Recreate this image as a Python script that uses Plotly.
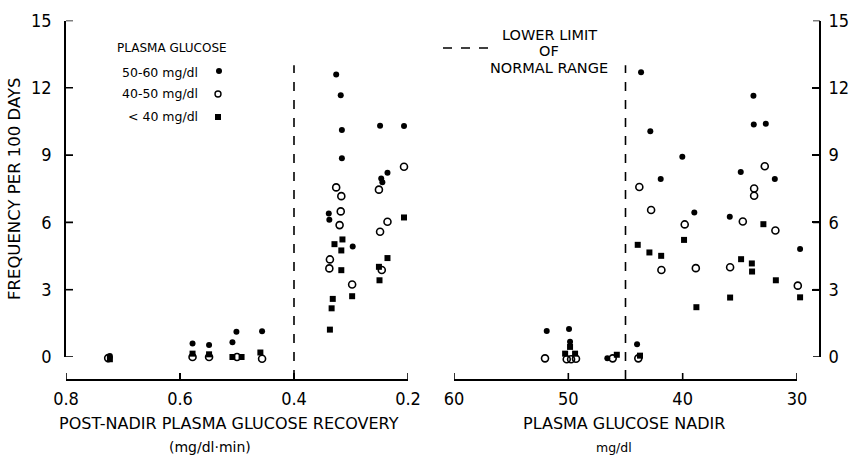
import plotly.graph_objects as go

W, H = 850, 459

# ---------------- data ----------------
# Left panel: post-nadir plasma glucose recovery (mg/dl·min) vs frequency per 100 days
rec_5060_x = [0.326, 0.318, 0.316, 0.316, 0.339, 0.338, 0.297, 0.249, 0.207, 0.236, 0.247, 0.245,
              0.578, 0.549, 0.508, 0.501, 0.456, 0.723]
rec_5060_y = [12.59, 11.67, 10.12, 8.86, 6.40, 6.12, 4.93, 10.31, 10.30, 8.21, 7.96, 7.79,
              0.60, 0.54, 0.66, 1.13, 1.15, 0.05]
rec_4050_x = [0.326, 0.317, 0.318, 0.320, 0.337, 0.338, 0.298, 0.207, 0.251, 0.236, 0.249, 0.246,
              0.726, 0.578, 0.549, 0.500, 0.456]
rec_4050_y = [7.56, 7.17, 6.49, 5.88, 4.35, 3.95, 3.23, 8.48, 7.46, 6.03, 5.58, 3.88,
              -0.05, 0.0, 0.0, 0.0, -0.08]
rec_lt40_x = [0.315, 0.329, 0.317, 0.317, 0.332, 0.334, 0.337, 0.298, 0.207, 0.236, 0.251, 0.250,
              0.723, 0.578, 0.549, 0.508, 0.492, 0.459]
rec_lt40_y = [5.24, 5.03, 4.75, 3.87, 2.59, 2.17, 1.22, 2.71, 6.22, 4.41, 4.02, 3.42,
              -0.10, 0.15, 0.12, 0.0, 0.0, 0.20]

# Right panel: plasma glucose nadir (mg/dl) vs frequency per 100 days
nad_5060_x = [43.64, 42.83, 41.92, 40.03, 38.98, 35.88, 34.92, 33.81, 33.78, 32.73, 31.94, 29.73,
              43.99, 51.89, 49.94, 49.85, 46.59]
nad_5060_y = [12.69, 10.06, 7.93, 8.93, 6.44, 6.25, 8.25, 11.65, 10.36, 10.40, 7.93, 4.81,
              0.57, 1.16, 1.25, 0.68, -0.06]
nad_4050_x = [43.79, 42.76, 41.86, 39.82, 38.85, 35.85, 34.74, 33.75, 33.75, 32.82, 31.89, 29.93,
              43.88, 52.04, 50.14, 49.76, 49.33, 46.12]
nad_4050_y = [7.58, 6.55, 3.88, 5.91, 3.96, 4.00, 6.04, 7.51, 7.19, 8.50, 5.64, 3.18,
              -0.06, -0.06, -0.10, -0.10, -0.08, -0.06]
nad_lt40_x = [43.93, 42.91, 41.88, 39.88, 38.80, 35.85, 34.89, 33.95, 33.93, 32.94, 31.85, 29.73,
              43.73, 50.28, 49.85, 49.41, 45.76]
nad_lt40_y = [5.00, 4.66, 4.51, 5.22, 2.22, 2.65, 4.36, 4.17, 3.81, 5.92, 3.42, 2.66,
              0.06, 0.15, 0.45, 0.15, 0.10]

recovery_limit = 0.4      # lower limit of normal range
nadir_limit = 45.0
limit_top = 13.0

y_ticks = [0, 3, 6, 9, 12, 15]
rec_ticks = [0.8, 0.6, 0.4, 0.2]
rec_tick_text = ["0.8", "0.6", "0.4", "0.2"]
nad_ticks = [60, 50, 40, 30]

legend_labels = ["50-60 mg/dl", "40-50 mg/dl", "< 40 mg/dl"]

# ---------------- helpers ----------------
def px(x):
    return x / W

def py(y):
    return 1 - y / H

NUM_FONT = dict(family="Liberation Sans Narrow, DejaVu Sans Condensed, Arial Narrow, sans-serif",
                size=18, color="black")
TXT_FONT = "DejaVu Sans, Arial, sans-serif"

Y0_PX, Y15_PX, XAX_PX = 357.0, 20.5, 379.0
LEFT_PX, RIGHT_PX = 66.0, 820.0
R60_PX, R30_PX = 454.0, 797.0
unit = (Y0_PX - Y15_PX) / 15.0
y_low = -(XAX_PX - Y0_PX) / unit          # data value at the x-axis line

disp_dom = [py(Y0_PX), py(Y15_PX)]        # visible y-axes: 0..15
data_dom = [py(XAX_PX), py(Y15_PX)]       # data y-axes: extend down to x-axis line

# hidden data x-axis for the right panel extends one unit past 30 so that
# points just beyond the last tick are still drawn
x_unit_r = (R30_PX - R60_PX) / 30.0
x4_dom = [px(R60_PX), px(R30_PX + x_unit_r)]

fig = go.Figure()

filled = dict(symbol="circle", size=6, color="black", line=dict(width=0))
opened = dict(symbol="circle-open", size=7, color="black", line=dict(width=1.6))
square = dict(symbol="square", size=6, color="black", line=dict(width=0))

for xs, ys, mk, ax in [
    (rec_5060_x, rec_5060_y, filled, ("x", "y3")),
    (rec_4050_x, rec_4050_y, opened, ("x", "y3")),
    (rec_lt40_x, rec_lt40_y, square, ("x", "y3")),
    (nad_5060_x, nad_5060_y, filled, ("x4", "y4")),
    (nad_4050_x, nad_4050_y, opened, ("x4", "y4")),
    (nad_lt40_x, nad_lt40_y, square, ("x4", "y4")),
]:
    fig.add_trace(go.Scatter(x=xs, y=ys, mode="markers", marker=mk,
                             xaxis=ax[0], yaxis=ax[1], cliponaxis=False,
                             showlegend=False, hoverinfo="x+y"))

# empty traces so that the display axes get drawn
for ax in [("x", "y"), ("x2", "y2")]:
    fig.add_trace(go.Scatter(x=[], y=[], mode="markers", xaxis=ax[0], yaxis=ax[1],
                             showlegend=False, hoverinfo="skip"))

axis_common = dict(showgrid=False, zeroline=False, showline=True, linecolor="black",
                   linewidth=1.6, ticks="inside", tickcolor="black", tickwidth=1.6,
                   tickfont=NUM_FONT, fixedrange=True, automargin=False)
hidden = dict(visible=False, showgrid=False, zeroline=False, fixedrange=True, automargin=False)

fig.update_layout(
    template="none",
    width=W, height=H,
    margin=dict(l=0, r=0, t=0, b=0, pad=0),
    paper_bgcolor="white", plot_bgcolor="white",
    showlegend=False,
    xaxis=dict(domain=[px(LEFT_PX), px(408)], range=[0.8, 0.2], anchor="y3",
               tickvals=rec_ticks, ticktext=rec_tick_text, ticklen=6, ticklabelstandoff=3,
               **axis_common),
    yaxis=dict(domain=disp_dom, range=[0, 15], anchor="x", tickvals=y_ticks, ticklen=7,
               ticklabelstandoff=9, **axis_common),
    yaxis3=dict(domain=data_dom, range=[y_low, 15], anchor="x", **hidden),
    xaxis2=dict(domain=[px(R60_PX), px(R30_PX)], range=[60, 30], anchor="y4",
                tickvals=nad_ticks, ticklen=6, ticklabelstandoff=3, **axis_common),
    xaxis4=dict(domain=x4_dom, range=[60, 29], anchor="y4", **hidden),
    yaxis2=dict(domain=disp_dom, range=[0, 15], anchor="free", position=px(RIGHT_PX),
                side="right", tickvals=y_ticks, ticklen=7, ticklabelstandoff=4,
                **axis_common),
    yaxis4=dict(domain=data_dom, range=[y_low, 15], anchor="x4", **hidden),
)

# explicit inward tick marks (from the tick arrays)
tick_line = dict(color="black", width=1.6)
for t in y_ticks:
    fig.add_shape(type="line", xref="paper", yref="y", xsizemode="pixel",
                  xanchor=px(LEFT_PX), x0=0, x1=7, y0=t, y1=t, line=tick_line)
    fig.add_shape(type="line", xref="paper", yref="y2", xsizemode="pixel",
                  xanchor=px(RIGHT_PX), x0=-7, x1=0, y0=t, y1=t, line=tick_line)
for t in rec_ticks:
    fig.add_shape(type="line", xref="x", yref="paper", ysizemode="pixel",
                  yanchor=py(XAX_PX), y0=0, y1=6, x0=t, x1=t, line=tick_line)
for t in nad_ticks:
    fig.add_shape(type="line", xref="x2", yref="paper", ysizemode="pixel",
                  yanchor=py(XAX_PX), y0=0, y1=6, x0=t, x1=t, line=tick_line)

# Lower-limit-of-normal dashed lines
for xr, yr, xv in [("x", "y3", recovery_limit), ("x4", "y4", nadir_limit)]:
    fig.add_shape(type="line", xref=xr, yref=yr, x0=xv, x1=xv, y0=y_low, y1=limit_top,
                  line=dict(color="black", width=1.6, dash="dash"))

# Legend (drawn in paper space)
LEG_SIZE = 12.5
fig.add_annotation(x=px(172), y=py(48), xref="paper", yref="paper", text="PLASMA GLUCOSE",
                   showarrow=False, font=dict(family=TXT_FONT, size=12, color="black"),
                   xanchor="center", yanchor="middle")
legend_rows = [72, 94, 116]
for lab, row in zip(legend_labels, legend_rows):
    fig.add_annotation(x=px(200), y=py(row), xref="paper", yref="paper", text=lab,
                       showarrow=False, font=dict(family=TXT_FONT, size=LEG_SIZE, color="black"),
                       xanchor="right", yanchor="middle")
fig.add_shape(type="circle", xref="paper", yref="paper", xsizemode="pixel", ysizemode="pixel",
              xanchor=px(219), yanchor=py(71), x0=-3, x1=3, y0=-3, y1=3,
              fillcolor="black", line=dict(width=0))
fig.add_shape(type="circle", xref="paper", yref="paper", xsizemode="pixel", ysizemode="pixel",
              xanchor=px(218), yanchor=py(94), x0=-3, x1=3, y0=-3, y1=3,
              fillcolor="white", line=dict(width=1.4, color="black"))
fig.add_shape(type="rect", xref="paper", yref="paper", xsizemode="pixel", ysizemode="pixel",
              xanchor=px(218), yanchor=py(117), x0=-3, x1=3, y0=-3, y1=3,
              fillcolor="black", line=dict(width=0))

fig.add_shape(type="line", xref="paper", yref="paper", x0=px(443), x1=px(497), y0=py(48), y1=py(48),
              line=dict(color="black", width=1.5, dash="dash"))
for txt, yy in [("LOWER LIMIT", 35), ("OF", 51), ("NORMAL RANGE", 68)]:
    fig.add_annotation(x=px(549), y=py(yy), xref="paper", yref="paper", text=txt,
                       showarrow=False, font=dict(family=TXT_FONT, size=14.5, color="black"),
                       xanchor="center", yanchor="middle")

# Axis titles
fig.add_annotation(x=px(14), y=py(189), xref="paper", yref="paper",
                   text="FREQUENCY PER 100 DAYS", textangle=-90, showarrow=False,
                   font=dict(family=TXT_FONT, size=16.5, color="black"),
                   xanchor="center", yanchor="middle")
fig.add_annotation(x=px(229), y=py(423), xref="paper", yref="paper",
                   text="POST-NADIR PLASMA GLUCOSE RECOVERY", showarrow=False,
                   font=dict(family=TXT_FONT, size=16, color="black"),
                   xanchor="center", yanchor="middle")
fig.add_annotation(x=px(210), y=py(447), xref="paper", yref="paper",
                   text="(mg/dl·min)", showarrow=False,
                   font=dict(family=TXT_FONT, size=14, color="black"),
                   xanchor="center", yanchor="middle")
fig.add_annotation(x=px(624), y=py(423), xref="paper", yref="paper",
                   text="PLASMA GLUCOSE NADIR", showarrow=False,
                   font=dict(family=TXT_FONT, size=16, color="black"),
                   xanchor="center", yanchor="middle")
fig.add_annotation(x=px(614), y=py(447), xref="paper", yref="paper",
                   text="mg/dl", showarrow=False,
                   font=dict(family=TXT_FONT, size=12.5, color="black"),
                   xanchor="center", yanchor="middle")

fig.write_html("out.html")
